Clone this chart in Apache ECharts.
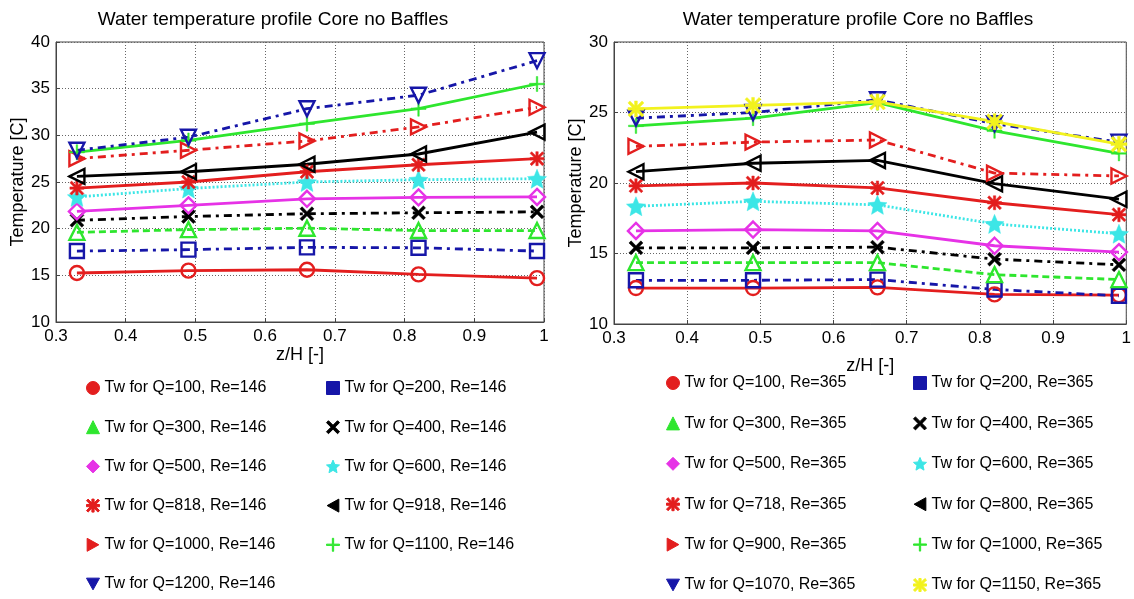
<!DOCTYPE html>
<html><head><meta charset="utf-8">
<script src="https://cdn.jsdelivr.net/npm/echarts@6/dist/echarts.min.js"></script>
<style>html,body{margin:0;padding:0;background:#fff}#c{width:1134px;height:599px}</style>
</head><body><div id="c"></div>
<script>
// ---------- DATA ----------
const zH = [0.33, 0.49, 0.66, 0.82, 0.99];
const titleText = 'Water temperature profile Core no Baffles';
// Left chart, Re=146
const leftQ = ['100', '200', '300', '400', '500', '600', '818', '918', '1000', '1100', '1200'];
const L100  = [15.25, 15.5, 15.6, 15.1, 14.7];
const L200  = [17.6, 17.75, 18.0, 17.95, 17.6];
const L300  = [19.6, 19.9, 20.05, 19.8, 19.8];
const L400  = [20.9, 21.3, 21.6, 21.7, 21.8];
const L500  = [21.85, 22.5, 23.2, 23.35, 23.4];
const L600  = [23.4, 24.3, 25.0, 25.25, 25.35];
const L818  = [24.35, 25.0, 26.1, 26.85, 27.5];
const L918  = [25.6, 26.1, 26.9, 28.0, 30.35];
const L1000 = [27.5, 28.4, 29.4, 30.9, 33.0];
const L1100 = [28.2, 29.45, 31.25, 32.85, 35.5];
const L1200 = [28.4, 29.8, 32.85, 34.3, 38.0];
// Right chart, Re=365
const rightQ = ['100', '200', '300', '400', '500', '600', '718', '800', '900', '1000', '1070', '1150'];
const R100  = [12.55, 12.55, 12.6, 12.1, 12.05];
const R200  = [13.1, 13.1, 13.15, 12.45, 12.0];
const R300  = [14.35, 14.35, 14.35, 13.5, 13.15];
const R400  = [15.4, 15.4, 15.45, 14.6, 14.2];
const R500  = [16.6, 16.7, 16.6, 15.55, 15.1];
const R600  = [18.35, 18.7, 18.45, 17.1, 16.4];
const R718  = [19.8, 20.0, 19.65, 18.6, 17.75];
const R800  = [20.8, 21.4, 21.6, 19.95, 18.85];
const R900  = [22.6, 22.9, 23.05, 20.7, 20.5];
const R1000 = [24.05, 24.6, 25.7, 23.7, 22.1];
const R1070 = [24.6, 25.0, 25.9, 24.2, 22.9];
const R1150 = [25.25, 25.5, 25.75, 24.35, 22.75];
const leftVals = [L100, L200, L300, L400, L500, L600, L818, L918, L1000, L1100, L1200];
const rightVals = [R100, R200, R300, R400, R500, R600, R718, R800, R900, R1000, R1070, R1150];

// ---------- STYLES ----------
const C = {r:'#e31e1e', b:'#1616a8', g:'#2ee62e', k:'#000000', m:'#e632e6', c:'#3ce6e6', y:'#f2f21e'};
const DASHDOT = [8,5,3,5], DASHED = [7,4], DOTTED = [2,2];
const P_X = 'path://M0,3 L3,0 L10,7 L17,0 L20,3 L13,10 L20,17 L17,20 L10,13 L3,20 L0,17 L7,10 Z';
const P_PLUS = 'path://M9,0 H11 V9 H20 V11 H11 V20 H9 V11 H0 V9 H9 Z';
const P_STAR = 'path://M10,0 L12.9,6.9 L20,7.6 L14.6,12.3 L16.2,19.5 L10,15.8 L3.8,19.5 L5.4,12.3 L0,7.6 L7.1,6.9 Z';
const P_AST = 'path://M8.3,0 H11.7 V20 H8.3 Z M0,8.3 H20 V11.7 H0 Z M2.4,0 L20,17.6 L17.6,20 L0,2.4 Z M17.6,0 L20,2.4 L2.4,20 L0,17.6 Z';
const P_LEFT = 'path://M0,10 L18,0 L18,20 Z';
const P_RIGHT = 'path://M18,10 L0,0 L0,20 Z';
const P_DOWN = 'path://M0,0 L20,0 L10,18 Z';
// [color, symbol, hollow, lineType, size]
const S = {
  c100:[C.r,'circle',true,'solid',14],
  c200:[C.b,'rect',true,DASHDOT,14],
  c300:[C.g,'triangle',true,DASHED,15],
  c400:[C.k,P_X,false,DASHDOT,14],
  c500:[C.m,'diamond',true,'solid',16],
  c600:[C.c,P_STAR,false,DOTTED,19],
  cHex:[C.r,P_AST,false,'solid',14],
  cLeft:[C.k,P_LEFT,true,'solid',15],
  cRight:[C.r,P_RIGHT,true,DASHDOT,15],
  cPlus:[C.g,P_PLUS,false,'solid',15],
  cDown:[C.b,P_DOWN,true,DASHDOT,15],
  cYel:[C.y,P_AST,false,'solid',16]
};
const leftStyles = [S.c100,S.c200,S.c300,S.c400,S.c500,S.c600,S.cHex,S.cLeft,S.cRight,S.cPlus,S.cDown];
const rightStyles = [S.c100,S.c200,S.c300,S.c400,S.c500,S.c600,S.cHex,S.cLeft,S.cRight,S.cPlus,S.cDown,S.cYel];

const FONT = 'Liberation Sans, Arial, Helvetica, sans-serif';

function mkSeries(name, vals, st, idx){
  const [col, sym, hollow, lt, sz] = st;
  return {
    name, type:'line', xAxisIndex: idx, yAxisIndex: idx,
    data: zH.map((x,i)=>[x, vals[i]]),
    symbol: sym, symbolSize: sz,
    showAllSymbol: true, animation:false,
    lineStyle:{color: col, width: 2.8, type: lt},
    itemStyle: hollow ? {color:'rgba(255,255,255,0)', borderColor: col, borderWidth: 2.4}
                      : {color: col, borderColor: col, borderWidth: 0.5},
    emphasis:{disabled:true}
  };
}
const series = [];
const leftNames = leftQ.map(q => 'Tw for Q=' + q + ', Re=146');
const rightNames = rightQ.map(q => 'Tw for Q=' + q + ', Re=365');
leftNames.forEach((n,i)=>series.push(mkSeries(n, leftVals[i], leftStyles[i], 0)));
rightNames.forEach((n,i)=>series.push(mkSeries(n, rightVals[i], rightStyles[i], 1)));

function legItem(name, st){
  return {name, icon: st[1],
          itemStyle:{color: st[0], borderColor: st[0], borderWidth: 1}};
}
function mkLegend(names, styles, idxs, left, top, gap){
  return {
    orient:'vertical', left, top, itemGap: gap, itemWidth: 13, itemHeight: 13,
    selectedMode:false, padding:0,
    textStyle:{fontFamily: FONT, fontSize: 16, color:'#000', lineHeight: 20},
    data: idxs.map(i => legItem(names[i], styles[i]))
  };
}

function xAx(idx, gap){
  return {
    type:'value', gridIndex: idx, min:0.3, max:1, interval:0.1,
    name:'z/H [-]', nameLocation:'middle', nameGap: gap,
    nameTextStyle:{fontFamily: FONT, fontSize: 18, color:'#000'},
    axisLine:{show:true, onZero:false, lineStyle:{color:'#444', width:1}},
    axisTick:{show:true, inside:true, length:4, lineStyle:{color:'#444'}},
    axisLabel:{fontFamily: FONT, fontSize: 17, color:'#000', margin: 6,
      formatter: v => String(+v.toFixed(1))},
    splitLine:{show:true, lineStyle:{color:'#666', type:[1,2], width:1}}
  };
}
function yAx(idx, min, max, gap){
  return {
    type:'value', gridIndex: idx, min, max, interval:5,
    name:'Temperature [C]', nameLocation:'middle', nameGap: gap,
    nameTextStyle:{fontFamily: FONT, fontSize: 18, color:'#000'},
    axisLine:{show:true, lineStyle:{color:'#444', width:1}},
    axisTick:{show:true, inside:true, length:4, lineStyle:{color:'#444'}},
    axisLabel:{fontFamily: FONT, fontSize: 17, color:'#000', margin: 6},
    splitLine:{show:true, lineStyle:{color:'#666', type:[1,2], width:1}}
  };
}

const option = {
  backgroundColor:'#fff',
  animation:false,
  title:[
    {text: titleText, left: 273, top: 10, textAlign:'center', padding:0,
     textStyle:{fontFamily: FONT, fontSize: 19, fontWeight:'normal', color:'#000'}},
    {text: titleText, left: 858, top: 10, textAlign:'center', padding:0,
     textStyle:{fontFamily: FONT, fontSize: 19, fontWeight:'normal', color:'#000'}}
  ],
  grid:[
    {left:56, top:42, width:488, height:280, show:true, borderColor:'#444', borderWidth:1, backgroundColor:'#fff'},
    {left:614, top:42, width:516, height:282, show:true, borderColor:'#444', borderWidth:1, backgroundColor:'#fff'}
  ],
  xAxis:[xAx(0, 24), xAx(1, 33)],
  yAxis:[yAx(0, 10, 40, 22), yAx(1, 10, 30, 26)],
  legend:[
    mkLegend(leftNames, leftStyles, [0,2,4,6,8,10], 86, 378, 19.2),
    mkLegend(leftNames, leftStyles, [1,3,5,7,9], 326, 378, 19.2),
    mkLegend(rightNames, rightStyles, [0,2,4,6,8,10], 666, 373, 20.4),
    mkLegend(rightNames, rightStyles, [1,3,5,7,9,11], 913, 373, 20.4)
  ],
  series
};
const chart = echarts.init(document.getElementById('c'), null, {renderer:'canvas'});
chart.setOption(option);
</script>
</body></html>
